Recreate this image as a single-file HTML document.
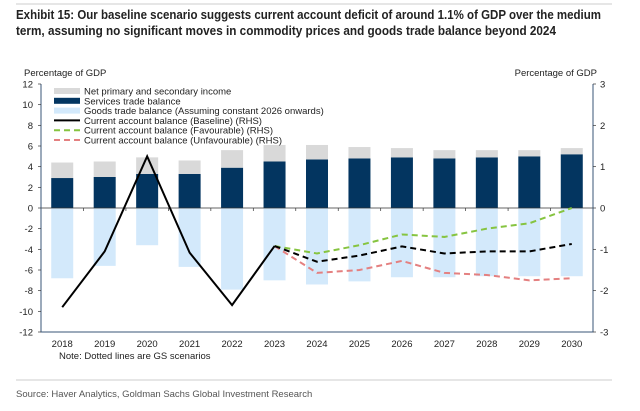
<!DOCTYPE html>
<html><head><meta charset="utf-8"><style>
body{margin:0;background:#fff;}
svg{display:block;font-family:"Liberation Sans",sans-serif;}
</style></head><body>
<svg id="c" width="640" height="411">
<line x1="16" y1="4" x2="612" y2="4" stroke="#ccc"/>
<text x="16" y="19" font-size="12.5" font-weight="bold" fill="#222" textLength="585" lengthAdjust="spacingAndGlyphs">Exhibit 15: Our baseline scenario suggests current account deficit of around 1.1% of GDP over the medium</text>
<text x="16" y="35" font-size="12.5" font-weight="bold" fill="#222" textLength="540" lengthAdjust="spacingAndGlyphs">term, assuming no significant moves in commodity prices and goods trade balance beyond 2024</text>
<text x="24" y="76" font-size="9.5" fill="#222">Percentage of GDP</text>
<text x="597" y="76" font-size="9.5" fill="#222" text-anchor="end">Percentage of GDP</text>
<g id="plot"></g>
<text x="59" y="359" font-size="9.5" fill="#222">Note: Dotted lines are GS scenarios</text>
<line x1="16" y1="380" x2="612" y2="380" stroke="#ccc"/>
<text x="16" y="397" font-size="9.5" fill="#555">Source: Haver Analytics, Goldman Sachs Global Investment Research</text>
</svg>
<script>
const years=["2018","2019","2020","2021","2022","2023","2024","2025","2026","2027","2028","2029","2030"];
const services=[2.9,3.0,3.3,3.3,3.9,4.5,4.7,4.8,4.9,4.8,4.9,5.0,5.2];
const income=[1.5,1.5,1.6,1.3,1.7,1.6,1.4,1.1,0.9,0.8,0.7,0.6,0.6];
const goods=[-6.8,-5.6,-3.6,-5.7,-7.9,-7.0,-7.4,-7.1,-6.7,-6.7,-6.6,-6.6,-6.6];
const baseline=[-2.4,-1.05,1.25,-1.08,-2.35,-0.92,-1.3,-1.15,-0.93,-1.1,-1.05,-1.05,-0.87];
const favourable=[null,null,null,null,null,-0.92,-1.1,-0.9,-0.64,-0.7,-0.5,-0.37,0];
const unfavourable=[null,null,null,null,null,-0.92,-1.57,-1.5,-1.28,-1.57,-1.62,-1.75,-1.7];
const leftTicks=[12,10,8,6,4,2,0,-2,-4,-6,-8,-10,-12];
const rightTicks=[3,2,1,0,-1,-2,-3];
const NS="http://www.w3.org/2000/svg";
const g=document.getElementById('plot');
const L=41,R=593,T=84,B=332;
const yL=v=>T+(12-v)/24*(B-T);
const yR=v=>T+(3-v)/6*(B-T);
const step=(R-L)/years.length;
const xC=i=>L+step*(i+0.5);
function mk(t,a){const e=document.createElementNS(NS,t);for(const k in a)e.setAttribute(k,a[k]);g.appendChild(e);return e;}
const bw=22;
years.forEach((y,i)=>{
 let r=mk('rect',{x:xC(i)-bw/2,y:yL(0),width:bw,height:yL(goods[i])-yL(0),fill:'#d3e9fb'});
 
 
 r=mk('rect',{x:xC(i)-bw/2,y:yL(services[i]),width:bw,height:yL(0)-yL(services[i]),fill:'#033560'});
 
 
 r=mk('rect',{x:xC(i)-bw/2,y:yL(services[i]+income[i]),width:bw,height:yL(services[i])-yL(services[i]+income[i]),fill:'#d9d9d9'});
 
 
 let t=mk('text',{x:xC(i),y:347,'font-size':9.5,'text-anchor':'middle',fill:'#222'});t.textContent=y;
 
 
 let tk=mk('line',{x1:L+step*i,y1:yL(0),x2:L+step*i,y2:yL(0)+3,stroke:'#333','stroke-width':0.7});
 
 
});
let ax=mk('line',{x1:L,y1:yL(0),x2:R,y2:yL(0),stroke:'#333','stroke-width':0.8});


let fr=mk('path',{d:`M${L},${T}V${B}H${R}V${T}`,fill:'none',stroke:'#3a5577','stroke-width':1});


leftTicks.forEach(v=>{let t=mk('text',{x:33,y:yL(v)+3.5,'font-size':9.5,'text-anchor':'end',fill:'#222'});t.textContent=v;
 
 
 let l=mk('line',{x1:L-3,y1:yL(v),x2:L,y2:yL(v),stroke:'#333','stroke-width':0.7});
 
 });
rightTicks.forEach(v=>{let t=mk('text',{x:600,y:yR(v)+3.5,'font-size':9.5,fill:'#222'});t.textContent=v;
 
 
 let l=mk('line',{x1:R,y1:yR(v),x2:R+3,y2:yR(v),stroke:'#333','stroke-width':0.7});
 
 });
function line(arr,from,to,col,dash,name){let d='';for(let i=from;i<=to;i++){if(arr[i]==null)continue;d+=(d?'L':'M')+xC(i)+','+yR(arr[i]);}
 const p=mk('path',{d,fill:'none',stroke:col,'stroke-width':2,'stroke-dasharray':dash||'none'});
 
 }
line(unfavourable,5,12,'#e48080','6,4','unfavourable-line');
line(favourable,5,12,'#86c440','6,4','favourable-line');
line(baseline,5,12,'#000','6,4','baseline-forecast-line');
line(baseline,0,5,'#000',null,'baseline-line');
const leg=[['Net primary and secondary income','rect','#d9d9d9'],['Services trade balance','rect','#033560'],['Goods trade balance (Assuming constant 2026 onwards)','rect','#d3e9fb'],['Current account balance (Baseline) (RHS)','line','#000',''],['Current account balance (Favourable) (RHS)','line','#86c440','6,4'],['Current account balance (Unfavourable) (RHS)','line','#e48080','6,4']];
leg.forEach((e,i)=>{const y=91+i*9.8;
 let s=e[1]=='rect'?mk('rect',{x:54,y:y-3,width:26,height:6,fill:e[2]}):mk('line',{x1:54,y1:y,x2:80,y2:y,stroke:e[2],'stroke-width':2,'stroke-dasharray':e[3]||'none'});
 
 
 let t=mk('text',{x:84,y:y+3.5,'font-size':9.5,fill:'#222'});t.textContent=e[0];
 
 });
</script>
</body></html>
